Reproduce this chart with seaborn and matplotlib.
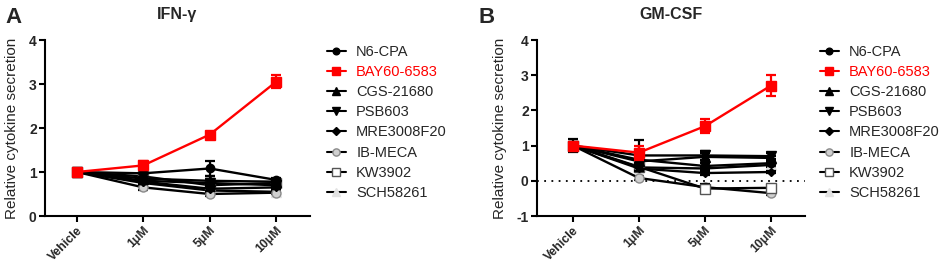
import matplotlib
matplotlib.use("Agg")
import matplotlib.pyplot as plt
import seaborn as sns
import pandas as pd
import numpy as np

categories = ["Vehicle", "1μM", "5μM", "10μM"]
compounds = ["N6-CPA", "BAY60-6583", "CGS-21680", "PSB603", "MRE3008F20",
             "IB-MECA", "KW3902", "SCH58261"]

# IFN-γ (panel A)
ifn_n6cpa = [1.00, 0.97, 1.08, 0.82]
ifn_bay = [1.00, 1.15, 1.85, 3.05]
ifn_cgs = [1.00, 0.85, 0.80, 0.78]
ifn_psb = [1.00, 0.80, 0.75, 0.70]
ifn_mre = [1.00, 0.78, 0.62, 0.65]
ifn_ibmeca = [1.00, 0.65, 0.50, 0.53]
ifn_kw = [1.00, 0.90, 0.70, 0.75]
ifn_sch = [1.00, 0.75, 0.58, 0.55]
ifn_err_n6cpa = [0.03, 0.08, 0.18, 0.05]
ifn_err_bay = [0.03, 0.10, 0.07, 0.15]
ifn_err_cgs = [0.03, 0.12, 0.10, 0.05]
ifn_err_psb = [0.03, 0.06, 0.08, 0.05]
ifn_err_mre = [0.02, 0.05, 0.06, 0.04]
ifn_err_ibmeca = [0.02, 0.05, 0.05, 0.03]
ifn_err_kw = [0.04, 0.06, 0.06, 0.05]
ifn_err_sch = [0.02, 0.05, 0.05, 0.03]

# GM-CSF (panel B)
gm_n6cpa = [1.00, 0.60, 0.42, 0.50]
gm_bay = [1.00, 0.80, 1.55, 2.70]
gm_cgs = [1.00, 0.55, 0.68, 0.65]
gm_psb = [1.00, 0.72, 0.72, 0.70]
gm_mre = [1.00, 0.35, 0.22, 0.25]
gm_ibmeca = [1.00, 0.08, -0.18, -0.35]
gm_kw = [1.00, 0.40, -0.22, -0.20]
gm_sch = [1.00, 0.38, 0.35, 0.45]
gm_err_n6cpa = [0.05, 0.10, 0.08, 0.06]
gm_err_bay = [0.05, 0.20, 0.20, 0.30]
gm_err_cgs = [0.05, 0.10, 0.10, 0.06]
gm_err_psb = [0.18, 0.45, 0.12, 0.08]
gm_err_mre = [0.03, 0.06, 0.05, 0.04]
gm_err_ibmeca = [0.03, 0.06, 0.06, 0.05]
gm_err_kw = [0.05, 0.08, 0.12, 0.06]
gm_err_sch = [0.03, 0.05, 0.05, 0.05]

ifn_means = [ifn_n6cpa, ifn_bay, ifn_cgs, ifn_psb, ifn_mre, ifn_ibmeca, ifn_kw, ifn_sch]
ifn_errs = [ifn_err_n6cpa, ifn_err_bay, ifn_err_cgs, ifn_err_psb, ifn_err_mre,
            ifn_err_ibmeca, ifn_err_kw, ifn_err_sch]
gm_means = [gm_n6cpa, gm_bay, gm_cgs, gm_psb, gm_mre, gm_ibmeca, gm_kw, gm_sch]
gm_errs = [gm_err_n6cpa, gm_err_bay, gm_err_cgs, gm_err_psb, gm_err_mre,
           gm_err_ibmeca, gm_err_kw, gm_err_sch]

def build_df(means, errs):
    rows = []
    for comp, m, e in zip(compounds, means, errs):
        for i, (cat, v, ev) in enumerate(zip(categories, m, e)):
            rows.append({"compound": comp, "dose": cat, "pos": i, "value": v, "err": ev})
    return pd.DataFrame(rows)

df_ifn = build_df(ifn_means, ifn_errs)
df_gm = build_df(gm_means, gm_errs)

sns.set_theme(style="ticks")
plt.rcParams["font.family"] = ["Liberation Sans", "DejaVu Sans"]

styles = {
    "N6-CPA":     dict(line="black", marker="o", mfc="black", mec="black", ms=6.0),
    "BAY60-6583": dict(line="#ff0000", marker="s", mfc="#ff0000", mec="#ff0000", ms=6.5),
    "CGS-21680":  dict(line="black", marker="^", mfc="black", mec="black", ms=6.5),
    "PSB603":     dict(line="black", marker="v", mfc="black", mec="black", ms=6.5),
    "MRE3008F20": dict(line="black", marker="D", mfc="black", mec="black", ms=4.5),
    "IB-MECA":    dict(line="black", marker="o", mfc="#d0d0d0", mec="#8a8a8a", ms=6.5),
    "KW3902":     dict(line="black", marker="s", mfc="#ffffff", mec="#555555", ms=6.5),
    "SCH58261":   dict(line="black", marker="^", mfc="#e2e2e2", mec="#e2e2e2", ms=6.5),
}
draw_order = ["SCH58261", "IB-MECA", "KW3902", "MRE3008F20", "PSB603",
              "CGS-21680", "N6-CPA", "BAY60-6583"]

fig = plt.figure(figsize=(9.41, 2.63), dpi=100)
W, H = 941, 263
axA = fig.add_axes([45 / W, (H - 216) / H, (310 - 45) / W, (216 - 40) / H])
axB = fig.add_axes([537 / W, (H - 216) / H, (805 - 537) / W, (216 - 40) / H])

def draw_panel(ax, df, title, ylim, yticks, xlim, zero_line):
    for z, comp in enumerate(draw_order):
        st = styles[comp]
        sub = df[df["compound"] == comp]
        ax.errorbar(sub["pos"], sub["value"], yerr=sub["err"], fmt="none",
                    ecolor=st["line"] if comp == "BAY60-6583" else "black",
                    elinewidth=1.6, capsize=3.5, capthick=1.6, zorder=2 + z)
        sns.lineplot(data=sub, x="pos", y="value", ax=ax, color=st["line"],
                     marker=st["marker"], markerfacecolor=st["mfc"],
                     markeredgecolor=st["mec"], markersize=st["ms"],
                     markeredgewidth=1.0, linewidth=1.7, legend=False,
                     zorder=2 + z, errorbar=None)
    if zero_line:
        ax.axhline(0, color="black", linestyle=(0, (1, 3)), linewidth=1.3, zorder=1)
    ax.set_xlim(*xlim)
    ax.set_ylim(*ylim)
    ax.set_yticks(yticks)
    ax.set_yticklabels([str(t) for t in yticks], fontweight="bold", fontsize=10)
    ax.set_xticks(range(len(categories)))
    ax.set_xticklabels(categories, rotation=45, ha="right", rotation_mode="anchor",
                       fontweight="bold", fontsize=8.8)
    ax.set_xlabel("")
    ax.set_ylabel("Relative cytokine secretion", fontsize=11, labelpad=7)
    ax.set_title(title, fontweight="bold", fontsize=11.5, pad=15)
    sns.despine(ax=ax)
    for sp in ["left", "bottom"]:
        ax.spines[sp].set_linewidth(1.5)
        ax.spines[sp].set_color("black")
    ax.tick_params(axis="both", width=1.5, length=4, color="black", pad=2)
    ax.tick_params(axis="x", pad=2)

draw_panel(axA, df_ifn, "IFN-γ", (0, 4), [0, 1, 2, 3, 4], (-0.48, 3.51), False)
draw_panel(axB, df_gm, "GM-CSF", (-1, 4), [-1, 0, 1, 2, 3, 4], (-0.545, 3.52), True)

def add_legend(ax, x_px):
    from matplotlib.lines import Line2D
    handles = []
    for comp in compounds:
        st = styles[comp]
        handles.append(Line2D([0], [0], color=st["line"], marker=st["marker"],
                              markerfacecolor=st["mfc"], markeredgecolor=st["mec"],
                              markersize=st["ms"] * 0.8, linewidth=1.5))
    leg = ax.legend(handles, compounds, loc="upper left",
                    bbox_to_anchor=(x_px / W, (H - 45) / H),
                    bbox_transform=fig.transFigure, frameon=False,
                    fontsize=10.5, handlelength=1.3, handletextpad=0.7,
                    labelspacing=0.42, borderaxespad=0, borderpad=0)
    for txt, comp in zip(leg.get_texts(), compounds):
        if comp == "BAY60-6583":
            txt.set_color("#ff0000")

add_legend(axA, 327)
add_legend(axB, 820)

fig.text(5 / W, (H - 7) / H, "A", fontsize=16, fontweight="bold", va="top", ha="left")
fig.text(478 / W, (H - 7) / H, "B", fontsize=16, fontweight="bold", va="top", ha="left")

fig.savefig("out.png", dpi=100)
